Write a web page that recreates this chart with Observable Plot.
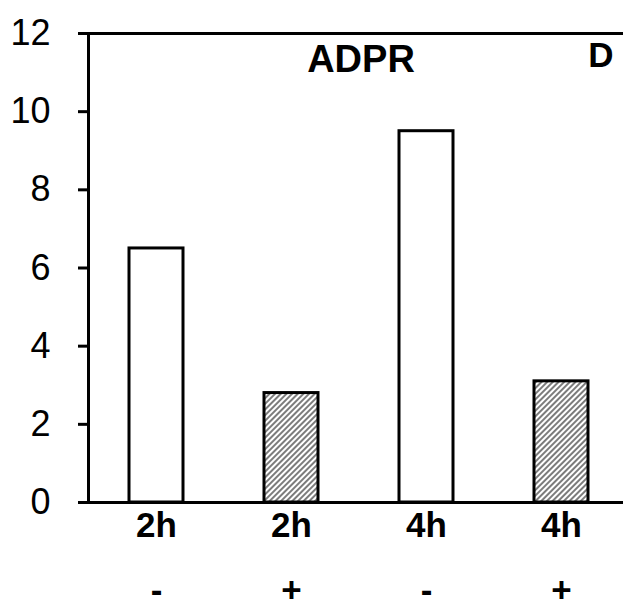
<!DOCTYPE html>
<html>
<head>
<meta charset="utf-8">
<script src="https://cdn.jsdelivr.net/npm/d3@7"></script>
<script src="https://cdn.jsdelivr.net/npm/@observablehq/plot@0.6"></script>
<style>
  html, body { margin: 0; padding: 0; background: #fff; }
  svg { display: block; }
</style>
</head>
<body>
<div id="chart"></div>
<script>
// ADPR level by incubation time and treatment
const times = ["2h", "2h", "4h", "4h"];
const treatments = ["-", "+", "-", "+"];
const values = [6.5, 2.8, 9.5, 3.1];
const yTicks = [0, 2, 4, 6, 8, 10, 12];
const title = "ADPR";
const panel = "D";

const rows = values.map((v, i) => ({ key: i, time: times[i], treat: treatments[i], value: v }));
const font = "'Liberation Sans', Arial, sans-serif";

const plot = Plot.plot({
  width: 623,
  height: 611,
  marginLeft: 88,
  marginRight: 0,
  marginTop: 33,
  marginBottom: 109,
  style: { fontFamily: font, background: "#fff", color: "#000" },
  x: { domain: rows.map(d => d.key), range: [88, 628], paddingInner: 0.6, paddingOuter: 0.3, axis: null },
  y: { domain: [0, 12], axis: null },
  marks: [
    Plot.barY(rows.filter(d => d.treat === "-"), { x: "key", y: "value", fill: "white", stroke: "black", strokeWidth: 3 }),
    Plot.barY(rows.filter(d => d.treat === "+"), { x: "key", y: "value", fill: "url(#hatch)", stroke: "black", strokeWidth: 3 }),
    Plot.ruleY([0, 12], { stroke: "black", strokeWidth: 3 }),
    Plot.frame({ anchor: "left", stroke: "black", strokeWidth: 3 }),
    Plot.axisY({ ticks: yTicks, tickSize: 10, tickPadding: 28, strokeWidth: 3, fontSize: 36, label: null }),
    Plot.axisX({ tickFormat: i => times[i], tickSize: 0, tickPadding: 10, fontSize: 35, fontWeight: "bold", label: null }),
    Plot.axisX({ tickFormat: i => treatments[i], tickSize: 0, tickPadding: 75, fontSize: 35, fontWeight: "bold", label: null }),
    Plot.text([title], { frameAnchor: "top", dx: 5, dy: 12, fontSize: 38, fontWeight: "bold" }),
    Plot.text([panel], { frameAnchor: "top-right", textAnchor: "end", dx: -10, dy: 9, fontSize: 35, fontWeight: "bold" })
  ]
});

// diagonal hatch used by the treated bars
const svg = d3.select(plot);
const defs = svg.insert("defs", ":first-child");
const pat = defs.append("pattern")
  .attr("id", "hatch")
  .attr("patternUnits", "userSpaceOnUse")
  .attr("width", 4)
  .attr("height", 4)
  .attr("patternTransform", "rotate(45)");
pat.append("rect").attr("width", 4).attr("height", 4).attr("fill", "white");
pat.append("line").attr("x1", 1).attr("y1", 0).attr("x2", 1).attr("y2", 4)
  .attr("stroke", "#444").attr("stroke-width", 1.4);

document.getElementById("chart").appendChild(plot);
</script>
</body>
</html>
